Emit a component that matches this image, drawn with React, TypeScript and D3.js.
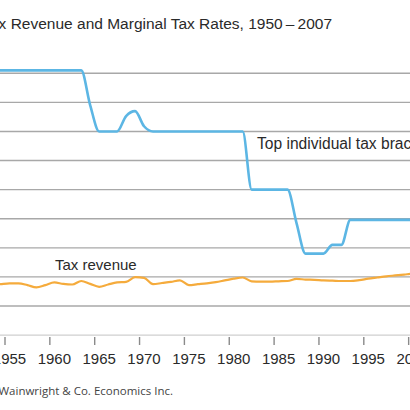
import * as d3 from 'd3';

const years = [
    1950, 1951, 1952, 1953, 1954, 1955, 1956, 1957, 1958, 1959,
    1960, 1961, 1962, 1963, 1964, 1965, 1966, 1967, 1968, 1969,
    1970, 1971, 1972, 1973, 1974, 1975, 1976, 1977, 1978, 1979,
    1980, 1981, 1982, 1983, 1984, 1985, 1986, 1987, 1988, 1989,
    1990, 1991, 1992, 1993, 1994, 1995, 1996, 1997, 1998, 1999,
    2000, 2001, 2002, 2003, 2004, 2005, 2006, 2007,
];

// top individual tax bracket, %
const topRate = [
    84.4, 91, 92, 92, 91, 91, 91, 91, 91, 91,
    91, 91, 91, 91, 79, 70, 70, 70, 75.3, 77,
    71.8, 70, 70, 70, 70, 70, 70, 70, 70, 70,
    70, 70, 50, 50, 50, 50, 50, 38.5, 28, 28,
    28, 31, 31, 39.6, 39.6, 39.6, 39.6, 39.6, 39.6, 39.6,
    39.6, 39.1, 38.6, 35, 35, 35, 35, 35,
];

// tax revenue, % of GDP
const taxRevenue = [
    16.8, 17.5, 18.0, 17.2, 17.5, 17.8, 17.8, 17.2, 16.4, 17.2,
    18.1, 17.6, 17.4, 18.6, 17.6, 16.6, 17.4, 18.1, 18.3, 19.9,
    19.7, 17.5, 17.9, 18.3, 18.8, 17.2, 17.5, 17.8, 18.2, 18.8,
    19.4, 19.8, 18.5, 18.4, 18.4, 18.5, 18.6, 19.3, 19.1, 19.0,
    18.8, 18.7, 18.6, 18.6, 18.9, 19.4, 19.8, 20.2, 20.5, 20.8,
    21.1, 20.5, 19.1, 18.3, 18.1, 18.7, 19.3, 19.6,
];

const yTicks = [10, 20, 30, 40, 50, 60, 70, 80, 90];
const xTicks = [1955, 1960, 1965, 1970, 1975, 1980, 1985, 1990, 1995, 2000, 2005];

const W = 410;
const H = 410;
const font = '"Liberation Sans", Arial, Helvetica, sans-serif';

export default function App() {
    const x = d3.scaleLinear().domain([1955, 2000]).range([5, 408.65]);
    const y = d3.scaleLinear().domain([0, 90]).range([335.1, 73.3]);

    // each yearly value sits at the middle of its year
    const line = d3
        .line<number>()
        .x((_, i) => x(years[i] + 0.5))
        .y((d) => y(d))
        .curve(d3.curveMonotoneX);

    return (
        <svg
            width={W}
            height={H}
            style={{ position: 'absolute', left: 0, top: 0, background: '#fff' }}
        >
            <text
                x={332}
                y={28.5}
                textAnchor="end"
                fontFamily={font}
                fontSize={15.5}
                fill="#2a2a2a"
            >
                Tax Revenue and Marginal Tax Rates, 1950{'\u2009–\u2009'}2007
            </text>

            {yTicks.map((t) => (
                <line
                    key={t}
                    x1={-50}
                    x2={W + 50}
                    y1={y(t)}
                    y2={y(t)}
                    stroke="#a8a8a8"
                    strokeWidth={1.4}
                />
            ))}
            <line x1={-50} x2={W + 50} y1={y(0)} y2={y(0)} stroke="#cfcfcf" strokeWidth={1.2} />

            {xTicks.map((t) => (
                <g key={t}>
                    <line
                        x1={x(t)}
                        x2={x(t)}
                        y1={337}
                        y2={345}
                        stroke="#8a8a8a"
                        strokeWidth={1.4}
                    />
                    <text
                        x={x(t + 0.5)}
                        y={363.5}
                        textAnchor="middle"
                        fontFamily={font}
                        fontSize={15}
                        fill="#2a2a2a"
                    >
                        {t}
                    </text>
                </g>
            ))}

            <path
                d={line(taxRevenue) ?? ''}
                fill="none"
                stroke="#f5ab3c"
                strokeWidth={2.2}
                strokeLinejoin="round"
            />
            <path
                d={line(topRate) ?? ''}
                fill="none"
                stroke="#5cb6e4"
                strokeWidth={2.6}
                strokeLinejoin="round"
            />

            <text x={257} y={148.5} fontFamily={font} fontSize={15.6} fill="#2a2a2a">
                Top individual tax bracket
            </text>
            <text x={55} y={270} fontFamily={font} fontSize={15} fill="#2a2a2a">
                Tax revenue
            </text>

            <text
                x={173}
                y={395}
                textAnchor="end"
                fontFamily='"Open Sans", Lato, sans-serif'
                fontSize={11.5}
                fill="#444"
            >
                Source: Wainwright &amp; Co. Economics Inc.
            </text>
        </svg>
    );
}
